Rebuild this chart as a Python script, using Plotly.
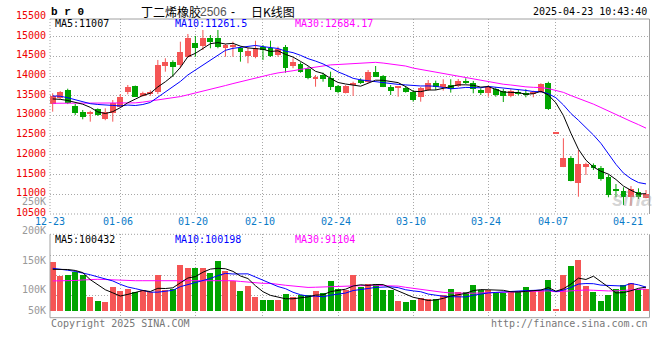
import numpy as np
import pandas as pd
import plotly.graph_objects as go

# ---------------- data ----------------
tick_idx = [0, 9, 19, 28, 38, 48, 58, 67, 77]
tick_labels = ["12-23", "01-06", "01-20", "02-10", "02-24", "03-10", "03-24", "04-07", "04-21"]
grid_idx = [9, 19, 28, 38, 48, 58, 67]

opens = [13284, 13437, 13647, 13249, 13081, 13030, 13157, 12903, 13056, 13224,
         13589, 13749, 13495, 13538, 13604, 14264, 14366, 14282, 14492, 14832,
         14764, 14975, 14975, 14706, 14731, 14706, 14510, 14492, 14747, 14706,
         14536, 14747, 14256, 14307, 14173, 13944, 14028, 13944, 13749, 13563,
         13792, 13901, 13858, 14112, 14003, 13731, 13700, 13690, 13604, 13477,
         13647, 13833, 13731, 13774, 13749, 13884, 13833, 13647, 13563, 13665,
         13630, 13495, 13604, 13579, 13538, 13589, 13833, 12540, 11701, 11913,
         11294, 11685, 11744, 11660, 11447, 11100, 11084, 10939, 11066, 10898]
highs = [13564, 13620, 13680, 13292, 13140, 13120, 13180, 13183, 13393, 13545,
         13774, 13760, 13604, 13640, 14409, 14452, 14400, 14873, 15069, 15018,
         15170, 15043, 15170, 14815, 14873, 14747, 14713, 14898, 14789, 14898,
         14747, 14789, 14452, 14350, 14239, 14028, 14086, 14112, 13774, 13770,
         13858, 13944, 14155, 14256, 14028, 13774, 13731, 13749, 13647, 13723,
         13901, 13884, 13919, 13919, 13926, 13944, 13876, 13690, 13774, 13716,
         13672, 13665, 13647, 13665, 13630, 13817, 13858, 12540, 12421, 11970,
         12125, 11802, 11784, 11718, 11490, 11261, 11178, 11211, 11152, 11109]
lows = [13097, 13420, 13290, 13013, 12903, 12843, 12990, 12880, 12843, 13200,
        13538, 13470, 13480, 13500, 13545, 14112, 13985, 14198, 14470, 14492,
        14662, 14706, 14706, 14492, 14492, 14366, 14325, 14452, 14409, 14485,
        14492, 14086, 14200, 14086, 13919, 13731, 13858, 13647, 13563, 13560,
        13495, 13800, 13817, 13977, 13720, 13520, 13477, 13580, 13350, 13350,
        13622, 13647, 13630, 13580, 13723, 13800, 13563, 13520, 13477, 13477,
        13342, 13462, 13513, 13462, 13462, 13570, 13140, 12540, 11690, 11330,
        10939, 11490, 11617, 11345, 10924, 10924, 10729, 10711, 10880, 10898]
closes = [13495, 13589, 13310, 13071, 12970, 13097, 13013, 13097, 13310, 13477,
          13716, 13477, 13563, 13589, 14282, 14366, 14239, 14619, 14959, 14706,
          14959, 14873, 14747, 14789, 14789, 14604, 14645, 14706, 14662, 14510,
          14680, 14198, 14366, 14112, 13944, 13985, 13926, 13731, 13604, 13749,
          13817, 13817, 14112, 13985, 13731, 13630, 13712, 13604, 13393, 13690,
          13833, 13716, 13800, 13665, 13876, 13833, 13665, 13563, 13731, 13520,
          13495, 13622, 13538, 13520, 13589, 13800, 13157, 12540, 11913, 11345,
          11769, 11769, 11660, 11380, 10982, 11085, 10939, 11127, 10924, 11000]
volumes = [202500, 143800, 148000, 162300, 148000, 55800, 41900, 37700, 97700, 80900,
           89300, 76700, 85100, 76700, 148000, 85100, 91000, 189900, 177400, 177400,
           177400, 156400, 206700, 167700, 122900, 80900, 101900, 55800, 43200, 46100,
           43200, 68300, 55800, 64200, 64200, 80900, 74200, 122900, 91000, 88100,
           148000, 99400, 110300, 110300, 85100, 85100, 39000, 34800, 43200, 53200,
           50300, 50300, 67100, 92200, 79700, 79700, 109000, 88100, 88100, 74200,
           74200, 78400, 83900, 100600, 88100, 88100, 130000, 8400, 150900, 185700,
           213800, 101900, 76700, 41900, 67100, 91000, 109000, 116100, 92200, 91000]

# moving-average values at the chart start (they depend on days before the chart)
ma5_head = [13420, 13410, 13380, 13330]
ma10_head = [13495, 13490, 13450, 13400, 13350, 13300, 13280, 13260, 13255]
ma30_head = [13310, 13310, 13310, 13310, 13310, 13310, 13310, 13310, 13310, 13310,
             13310, 13320, 13340, 13365, 13390, 13415, 13437, 13480, 13525, 13570,
             13610, 13660, 13710, 13760, 13810, 13860, 13910, 13955, 14003]
vol_ma5_head = [174800, 174800, 174000, 170000]
vol_ma10_head = [179000, 176000, 171000, 166000, 160000, 152000, 143000, 135000, 126000]
vol_ma30_head = [126000, 126000, 127000, 128000, 130000, 132000, 133000, 132000, 130000, 128000,
                 127000, 127000, 127000, 127000, 128000, 129000, 130000, 130000, 130000, 130000,
                 130000, 130000, 130000, 129000, 127000, 124000, 121000, 119000, 116000]

price_labels = [15500, 15000, 14500, 14000, 13500, 13000, 12500, 12000, 11500, 11000, 10500]
ma_texts = ["MA5:11007", "MA10:11261.5", "MA30:12684.17"]
vol_ma_texts = ["MA5:100432", "MA10:100198", "MA30:91104"]
vol_labels = ["250K", "200K", "150K", "100K", "50K"]

# ---------------- geometry / style ----------------
W, H = 660, 360
LEFT, RIGHT = 50, 649.5
MAIN_TOP, MAIN_BOT = 19, 214
VOL_TOP, VOL_BOT = 234.3, 317.7
P_MIN, P_MAX = 10500, 15449
X_RANGE = [-0.3595, 79.466]
VOL_BASE_PX = 311.0
VOL_PX_PER_UNIT = 0.2385 / 1000.0

RED = "#F55555"
GREEN = "#00A400"
GRID = "#A8A8A8"
BORDER = "#A0A0A0"
MONO = "DejaVu Sans Mono"


def pxx(x):
    return x / W


def pxy(y):
    return 1 - y / H


def vol_at(py):
    return (VOL_BASE_PX - py) / VOL_PX_PER_UNIT


def price_px(p):
    return MAIN_BOT - (p - P_MIN) / (P_MAX - P_MIN) * (MAIN_BOT - MAIN_TOP)


n = len(closes)
idx = np.arange(n)
o = np.array(opens, float)
c = np.array(closes, float)
hi = np.array(highs, float)
lo = np.array(lows, float)
v = np.array(volumes, float)
up = c >= o


def moving(arr, w, head):
    s = pd.Series(arr).rolling(w).mean().to_numpy()
    s[:len(head)] = head
    return s


ma5 = moving(c, 5, ma5_head)
ma10 = moving(c, 10, ma10_head)
ma30 = moving(c, 30, ma30_head)
vma5 = moving(v, 5, vol_ma5_head)
vma10 = moving(v, 10, vol_ma10_head)
vma30 = moving(v, 30, vol_ma30_head)

fig = go.Figure()

# wicks
for mask, col in ((up, RED), (~up, GREEN)):
    xs, ys = [], []
    for i in idx[mask]:
        xs += [i, i, None]
        ys += [lo[i], hi[i], None]
    fig.add_trace(go.Scatter(x=xs, y=ys, mode="lines", line=dict(color=col, width=1),
                             hoverinfo="skip", xaxis="x", yaxis="y"))

# bodies
min_h = (P_MAX - P_MIN) / (MAIN_BOT - MAIN_TOP) * 1.2
body_base = np.minimum(o, c)
body_h = np.maximum(np.abs(c - o), min_h)
for mask, col in ((up, RED), (~up, GREEN)):
    fig.add_trace(go.Bar(x=idx[mask], y=body_h[mask], base=body_base[mask], width=0.78,
                         marker=dict(color=col, line=dict(width=0)), xaxis="x", yaxis="y"))

# price MAs
for arr, col in ((ma30, "#FF00FF"), (ma10, "#0000FF"), (ma5, "#000000")):
    fig.add_trace(go.Scatter(x=idx, y=arr, mode="lines", line=dict(color=col, width=1),
                             xaxis="x", yaxis="y"))

# volume bars
for mask, col in ((up, RED), (~up, GREEN)):
    fig.add_trace(go.Bar(x=idx[mask], y=v[mask], width=0.8,
                         marker=dict(color=col, line=dict(width=0)), xaxis="x2", yaxis="y2"))
for arr, col in ((vma30, "#FF00FF"), (vma10, "#0000FF"), (vma5, "#000000")):
    fig.add_trace(go.Scatter(x=idx, y=arr, mode="lines", line=dict(color=col, width=1),
                             xaxis="x2", yaxis="y2"))

axis_common = dict(showticklabels=False, ticks="", zeroline=False, showline=False,
                   gridcolor=GRID, griddash="1px,2px", gridwidth=1, fixedrange=True)

fig.update_layout(
    width=W, height=H, margin=dict(l=0, r=0, t=0, b=0), autosize=False,
    paper_bgcolor="white", plot_bgcolor="white", showlegend=False,
    barmode="overlay", bargap=0,
    xaxis=dict(domain=[pxx(LEFT), pxx(RIGHT)], range=X_RANGE, anchor="y",
               tickmode="array", tickvals=grid_idx, showgrid=True, **axis_common),
    yaxis=dict(domain=[pxy(MAIN_BOT), pxy(MAIN_TOP)], range=[P_MIN, P_MAX], anchor="x",
               tickmode="array", tickvals=list(range(11000, 15001, 500)), showgrid=True, **axis_common),
    xaxis2=dict(domain=[pxx(LEFT), pxx(RIGHT)], range=X_RANGE, anchor="y2",
                tickmode="array", tickvals=grid_idx, showgrid=True, **axis_common),
    yaxis2=dict(domain=[pxy(VOL_BOT), pxy(VOL_TOP)], range=[vol_at(VOL_BOT), vol_at(VOL_TOP)],
                anchor="x2", tickmode="array",
                tickvals=[vol_at(255.5), vol_at(275.8), vol_at(295.5)], showgrid=True, **axis_common),
)

# borders
def seg(x0, y0, x1, y1, dash="solid"):
    fig.add_shape(type="line", xref="paper", yref="paper", x0=pxx(x0), y0=pxy(y0),
                  x1=pxx(x1), y1=pxy(y1), line=dict(color=BORDER, width=1, dash=dash), layer="above")

seg(LEFT, MAIN_TOP, RIGHT, MAIN_TOP)
seg(RIGHT, MAIN_TOP, RIGHT, MAIN_BOT)
seg(LEFT, MAIN_TOP, LEFT, MAIN_BOT, "1px,2px")
seg(LEFT, MAIN_BOT, RIGHT, MAIN_BOT, "1px,2px")
seg(LEFT, VOL_TOP, RIGHT, VOL_TOP, "1px,2px")
seg(LEFT, VOL_TOP, LEFT, VOL_BOT)
seg(RIGHT, VOL_TOP, RIGHT, VOL_BOT)
seg(LEFT, VOL_BOT, RIGHT, VOL_BOT)

ann = []


def text(x, y, s, color="#000000", size=10, family=MONO, xanchor="left", bold=False, **kw):
    if bold:
        s = "<b>" + s + "</b>"
    d = dict(x=pxx(x), y=pxy(y), xref="paper", yref="paper", text=s, showarrow=False,
             xanchor=xanchor, yanchor="middle", font=dict(color=color, size=size, family=family),
             borderpad=0)
    d.update(kw)
    ann.append(d)


# price axis labels
for p in price_labels:
    text(47, price_px(p) - 1.5, str(p), color="#EE0000", xanchor="right")
# volume axis labels
for lab, y in zip(vol_labels, [201, 230.7, 260.7, 289.3, 310]):
    text(47, y, lab, color="#999999", xanchor="right")
# date labels
for i, lab in zip(tick_idx, tick_labels):
    xp = LEFT + (i - X_RANGE[0]) / (X_RANGE[1] - X_RANGE[0]) * (RIGHT - LEFT) - 2.5
    text(xp, 221.7, lab, color="#0A7BC8", xanchor="center")

# MA labels
for s, col, x in zip(ma_texts, ["#000000", "#0000FF", "#FF00FF"], [54, 174, 294]):
    text(x, 23.5, s, color=col)
for s, col, x in zip(vol_ma_texts, ["#000000", "#0000FF", "#FF00FF"], [54, 174, 294]):
    text(x, 239.5, s, color=col)

# header
text(50, 11.5, "b r 0", size=11, family="Liberation Mono", bold=True)
text(140, 11.5, "丁二烯橡胶", size=12, family="Noto Sans CJK SC")
text(199, 11.5, "2506", size=12, family="Liberation Sans", color="#555555")
text(233, 11.5, "-", size=12, family="Liberation Sans", xanchor="center")
text(250, 11.5, "日K线图", size=12, family="Noto Sans CJK SC")
text(648, 11.5, "2025-04-23 10:43:40", xanchor="right")

# footer
text(50, 323.5, "Copyright 2025 SINA.COM", color="#777777")
text(649, 323.5, "http://finance.sina.com.cn", color="#777777", xanchor="right")

# watermark
text(632, 199, "<i>sina</i>", color="rgba(160,160,160,0.45)", size=20,
     family="Liberation Sans", xanchor="center", bold=True)

fig.update_layout(annotations=ann)
fig.write_html("out.html", config={"displayModeBar": False},
               post_script="document.body.style.margin='0px';document.body.style.padding='0px';")
